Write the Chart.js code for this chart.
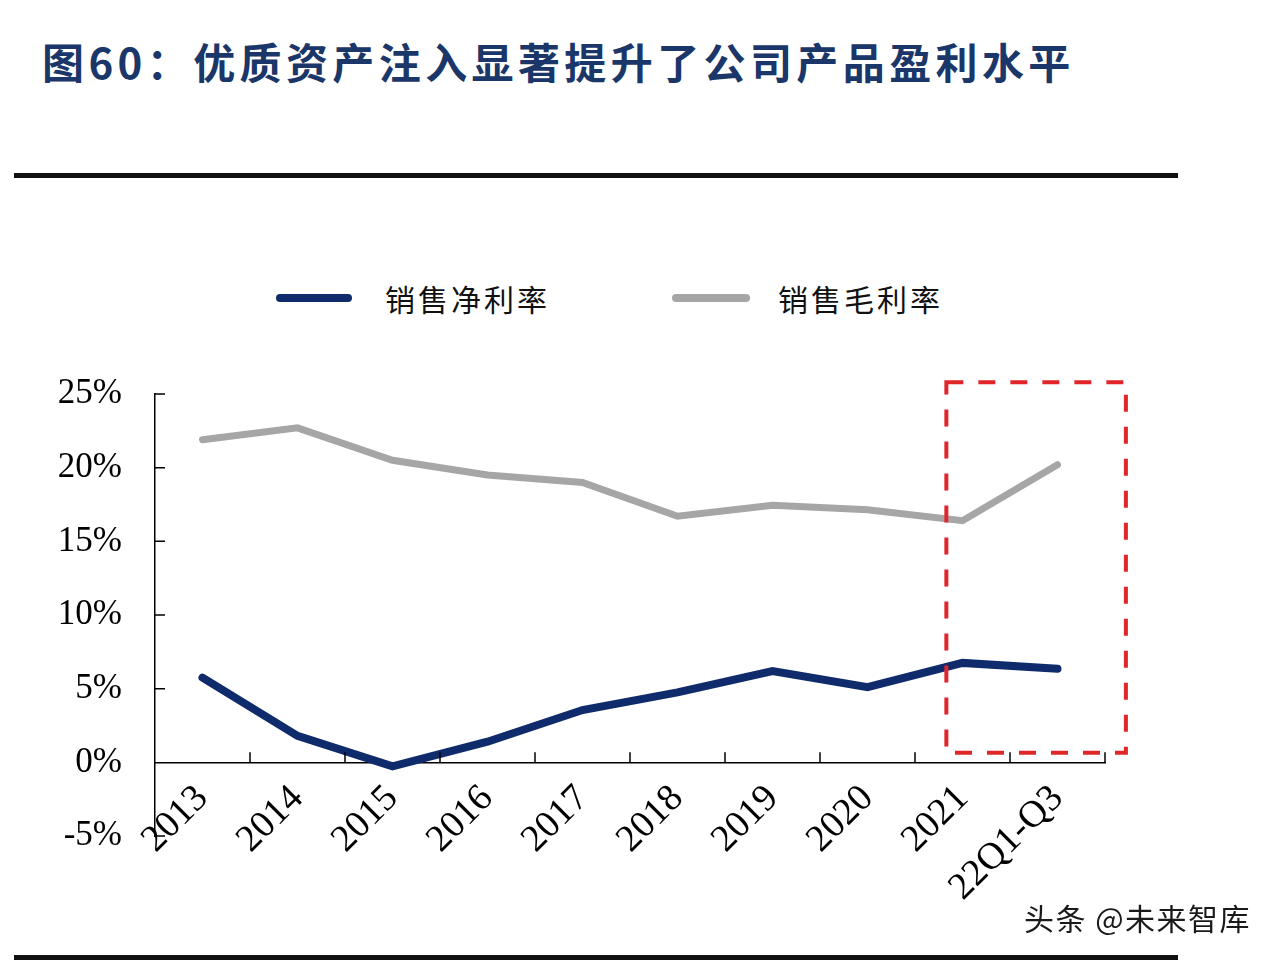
<!DOCTYPE html>
<html>
<head>
<meta charset="utf-8">
<script src="https://cdn.jsdelivr.net/npm/chart.js@4.4.1/dist/chart.umd.min.js"></script>
<style>
  body { margin: 0; background: #fff; width: 1288px; height: 966px; position: relative; overflow: hidden; }
  #title { position: absolute; left: 42px; top: 40px; font: 700 42px/1 "Noto Sans CJK SC", sans-serif; color: #1b3668; letter-spacing: 4.4px; white-space: nowrap; }
  .rule { position: absolute; left: 14px; width: 1164px; height: 5px; background: #111; }
  #legend { position: absolute; left: 0; top: 0; }
  .lg-line { position: absolute; height: 8px; border-radius: 4px; }
  .lg-text { position: absolute; font: 30px/1 "Noto Sans CJK SC", sans-serif; color: #111; letter-spacing: 3px; white-space: nowrap; }
  #chartBox { position: absolute; left: 0; top: 340px; width: 1288px; height: 600px; }
  #watermark { position: absolute; left: 1024px; top: 902px; font: 30px/1 "Noto Sans CJK SC", sans-serif; color: #1a1a1a; letter-spacing: 1.5px; text-shadow: 1px 1px 0 #fff, -1px -1px 0 #fff; white-space: nowrap; }
</style>
</head>
<body>
<div id="title">图60：优质资产注入显著提升了公司产品盈利水平</div>
<div class="rule" style="top:173px"></div>
<div id="legend"></div>
<div id="chartBox"><canvas id="marginChart" width="1288" height="600"></canvas></div>
<div id="watermark">头条 @未来智库</div>
<div class="rule" style="top:955px"></div>

<script>
const categories = ['2013', '2014', '2015', '2016', '2017', '2018', '2019', '2020', '2021', '22Q1-Q3'];
const netMargin = [5.75, 1.8, -0.27, 1.4, 3.55, 4.75, 6.2, 5.1, 6.75, 6.35];   // 销售净利率 %
const grossMargin = [21.9, 22.7, 20.5, 19.5, 19.0, 16.7, 17.45, 17.15, 16.4, 20.2]; // 销售毛利率 %
const yTicks = [-5, 0, 5, 10, 15, 20, 25];

// small inward tick marks on both axes
const innerTicks = {
    id: 'innerTicks',
    afterDraw(chart) {
        const { ctx, scales: { x, y } } = chart;
        const y0 = y.getPixelForValue(0);
        ctx.save();
        ctx.strokeStyle = '#000';
        ctx.lineWidth = 1.5;
        ctx.beginPath();
        yTicks.forEach(v => {
            if (v === 0) return;
            const py = y.getPixelForValue(v);
            ctx.moveTo(x.left, py);
            ctx.lineTo(x.left + 10, py);
        });
        for (let i = 0; i < categories.length; i++) {
            const px = x.getPixelForValue(i + 0.5);
            ctx.moveTo(px, y0);
            ctx.lineTo(px, y0 - 10);
        }
        ctx.stroke();
        ctx.restore();
    }
};

// red dashed highlight around the last two periods
const highlightBox = {
    id: 'highlightBox',
    afterDatasetsDraw(chart) {
        const { ctx, scales: { x, y } } = chart;
        const left = x.getPixelForValue(7.83);
        const right = x.getPixelForValue(9.72);
        const top = y.getPixelForValue(25.8);
        const bottom = y.getPixelForValue(0.65);
        ctx.save();
        ctx.strokeStyle = '#e0262b';
        ctx.lineWidth = 4;
        ctx.setLineDash([17, 15]);
        ctx.strokeRect(left, top, right - left, bottom - top);
        ctx.restore();
    }
};

const chart = new Chart(document.getElementById('marginChart'), {
    type: 'line',
    data: {
        labels: categories,
        datasets: [{
            label: '销售净利率',
            data: netMargin,
            borderColor: '#0f2b6b',
            borderWidth: 8,
            borderCapStyle: 'round',
            borderJoinStyle: 'miter',
            pointRadius: 0,
            tension: 0
        }, {
            label: '销售毛利率',
            data: grossMargin,
            borderColor: '#a6a6a6',
            borderWidth: 7,
            borderCapStyle: 'round',
            borderJoinStyle: 'miter',
            pointRadius: 0,
            tension: 0
        }]
    },
    options: {
        responsive: false,
        animation: false,
        layout: { padding: { top: 46, right: 183, left: 0, bottom: 104 } },
        plugins: {
            legend: { display: false },
            tooltip: { enabled: false }
        },
        scales: {
            x: {
                position: { y: 0 },
                offset: true,
                grid: { display: false, drawTicks: false },
                border: { color: '#000', width: 1.5 },
                ticks: {
                    minRotation: 45,
                    maxRotation: 45,
                    padding: 14,
                    color: '#000',
                    font: { family: 'Liberation Serif', size: 38 }
                },
                afterFit: s => { s.height = 0; }
            },
            y: {
                min: -5,
                max: 25,
                afterBuildTicks: s => { s.ticks = yTicks.map(v => ({ value: v })); },
                grid: { display: false, drawTicks: false },
                border: { color: '#000', width: 1.5 },
                ticks: {
                    padding: 33,
                    color: '#000',
                    font: { family: 'Liberation Serif', size: 35 },
                    callback: v => v + '%'
                },
                afterFit: s => { s.width = 155; }
            }
        }
    },
    plugins: [highlightBox, innerTicks]
});

// legend built from the datasets
const legendPos = [{ line: 276, w: 76, text: 385 }, { line: 672, w: 78, text: 778 }];
const legendEl = document.getElementById('legend');
chart.data.datasets.forEach((ds, i) => {
    const p = legendPos[i];
    const line = document.createElement('div');
    line.className = 'lg-line';
    line.style.left = p.line + 'px';
    line.style.top = '294px';
    line.style.width = p.w + 'px';
    line.style.background = ds.borderColor;
    const txt = document.createElement('div');
    txt.className = 'lg-text';
    txt.style.left = p.text + 'px';
    txt.style.top = '283px';
    txt.textContent = ds.label;
    legendEl.appendChild(line);
    legendEl.appendChild(txt);
});
</script>
</body>
</html>
